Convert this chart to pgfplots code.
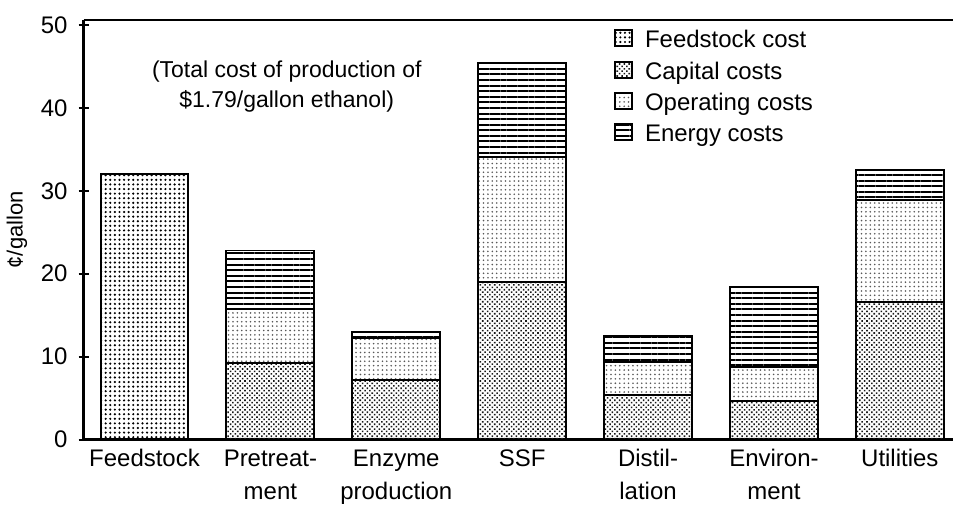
\documentclass[border=0pt]{standalone}
\usepackage{pgfplots}
\pgfplotsset{compat=1.18}
\usepackage{fontspec}
\setmainfont{Liberation Sans}
\usetikzlibrary{patterns,patterns.meta}
\begin{document}
\begin{tikzpicture}
\begin{axis}[
  scale only axis,
  width=435pt, height=210pt,
  ybar stacked,
  bar width=44pt,
  ymin=0, ymax=50.6,
  xmin=-0.484, xmax=6.42,
  axis x line=box,
  axis y line=left,
  axis line style={-, line width=1.3pt},
  ytick={0,10,20,30,40,50},
  xtick={0,1,2,3,4,5,6},
  xticklabels={Feedstock,Pretreat-\\ment,Enzyme\\production,SSF,Distil-\\lation,Environ-\\ment,Utilities},
  x tick style={draw=none},
  y tick style={line width=1pt, black},
  tick align=center,
  major tick length=5pt,
  xticklabel style={align=center, font=\fontsize{12}{16.5}\selectfont, yshift=1pt},
  yticklabel style={font=\fontsize{12}{13}\selectfont, xshift=-2pt},
  /pgf/number format/assume math mode=true,
  ylabel={\fontsize{11}{13}\selectfont ¢/gallon},
  ylabel style={yshift=0pt},
  legend style={draw=none, fill=none, at={(rel axis cs:0.603,0.995)}, anchor=north west,
    font=\fontsize{12}{13}\selectfont, row sep=1.5pt, cells={anchor=west}},
  legend cell align=left,
  area legend,
  legend image code/.code={\draw[#1, line width=1pt] (0cm,-0.1cm) rectangle (0.3cm,0.18cm);},
  every axis plot/.append style={draw=black, line width=1pt},
]
\addplot[pattern={Dots[distance=2.3pt, radius=0.6pt]}, pattern color=black]
  coordinates {(0,32) (1,0) (2,0) (3,0) (4,0) (5,0) (6,0)};
\addlegendentry{\hspace{4pt}Feedstock cost}
\addplot[pattern={Dots[distance=1.7pt, radius=0.55pt, angle=45]}, pattern color=black!90]
  coordinates {(0,0) (1,9.2) (2,7.2) (3,19.0) (4,5.4) (5,4.6) (6,16.6)};
\addlegendentry{\hspace{4pt}Capital costs}
\addplot[pattern={Dots[distance=2.2pt, radius=0.45pt]}, pattern color=black!65]
  coordinates {(0,0) (1,6.6) (2,5.1) (3,15.1) (4,4.0) (5,4.1) (6,12.3)};
\addlegendentry{\hspace{4pt}Operating costs}
\addplot[pattern={Lines[angle=0, distance=2.8pt, line width=1pt]}, pattern color=black]
  coordinates {(0,0) (1,7.0) (2,0.7) (3,11.3) (4,3.1) (5,9.7) (6,3.6)};
\addlegendentry{\hspace{4pt}Energy costs}
\node[align=center, font=\fontsize{11.5}{15}\selectfont, inner sep=0pt] at (axis cs:1.13,42.6)
  {(Total cost of production of\\ \$1.79/gallon ethanol)};
\end{axis}
\path (current axis.north west) ++(0,10pt);
\end{tikzpicture}
\end{document}
